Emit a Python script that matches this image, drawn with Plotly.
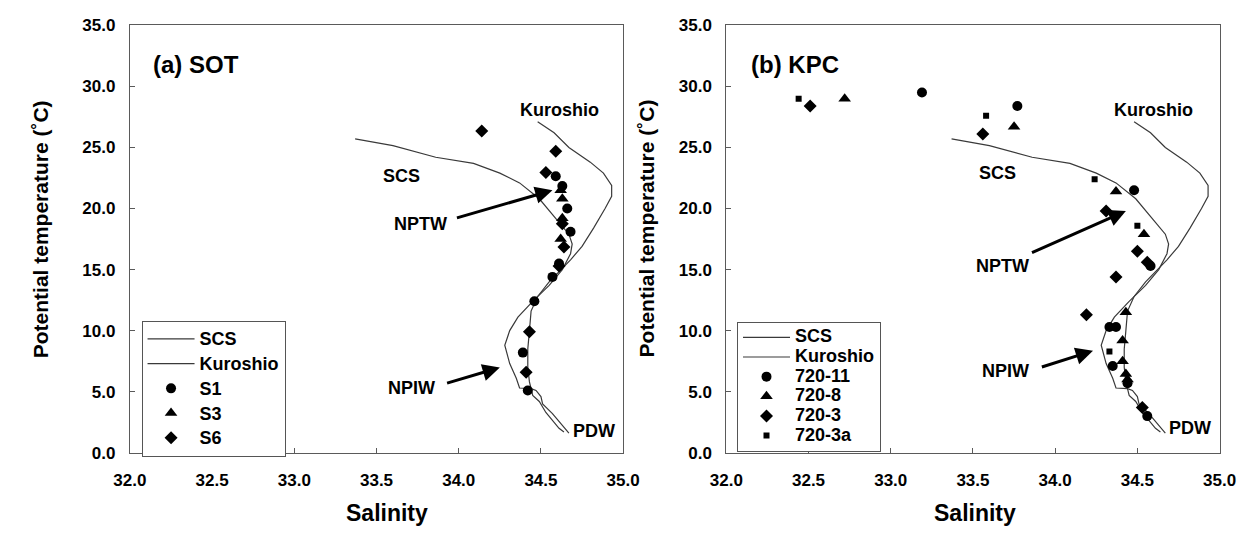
import plotly.graph_objects as go

# ---------------- data ----------------
# Reference T-S curves (same in both panels)
SCS_SAL = [33.37, 33.60, 33.86, 34.09, 34.25, 34.37, 34.49, 34.59, 34.67, 34.69, 34.68, 34.63,
           34.55, 34.45, 34.36, 34.31, 34.28, 34.31, 34.35, 34.37, 34.44, 34.47, 34.50, 34.51,
           34.57, 34.62, 34.67]
SCS_TEMP = [25.7, 25.15, 24.2, 23.7, 22.9, 22.1, 20.8, 19.2, 17.9, 17.1, 16.3, 15.0,
            13.7, 12.4, 11.1, 10.0, 8.8, 7.3, 6.1, 5.3, 5.25, 5.1, 4.6, 4.0,
            3.2, 2.4, 1.6]
KUR_SAL = [34.48, 34.58, 34.67, 34.80, 34.88, 34.93, 34.93, 34.89, 34.82, 34.75, 34.68, 34.61,
           34.55, 34.48, 34.44, 34.43, 34.42, 34.42, 34.43, 34.45, 34.49, 34.53, 34.57, 34.61, 34.64]
KUR_TEMP = [27.1, 26.2, 25.0, 23.8, 22.9, 21.9, 21.0, 20.0, 18.4, 16.9, 15.8, 14.8,
            14.0, 12.8, 11.6, 10.0, 8.5, 7.0, 5.8, 4.7, 4.2, 3.3, 2.6, 2.0, 1.7]

# (a) SOT stations
S1_SAL = [34.59, 34.63, 34.66, 34.68, 34.61, 34.57, 34.46, 34.39, 34.42]
S1_TEMP = [22.65, 21.85, 20.0, 18.1, 15.5, 14.4, 12.4, 8.2, 5.1]
S3_SAL = [34.62, 34.63, 34.63, 34.62]
S3_TEMP = [21.5, 20.8, 19.2, 17.5]
S6_SAL = [34.14, 34.59, 34.53, 34.63, 34.64, 34.61, 34.43, 34.41]
S6_TEMP = [26.35, 24.7, 22.95, 18.75, 16.85, 15.3, 9.9, 6.6]

# (b) KPC stations
K11_SAL = [33.19, 33.77, 34.48, 34.58, 34.33, 34.37, 34.35, 34.44, 34.56]
K11_TEMP = [29.5, 28.4, 21.5, 15.3, 10.3, 10.3, 7.1, 5.7, 3.0]
K8_SAL = [32.72, 33.75, 34.37, 34.54, 34.43, 34.41, 34.41, 34.43, 34.44]
K8_TEMP = [29.0, 26.7, 21.4, 17.9, 11.5, 9.2, 7.5, 6.45, 6.0]
K3_SAL = [32.51, 33.56, 34.31, 34.50, 34.56, 34.37, 34.19, 34.53]
K3_TEMP = [28.4, 26.1, 19.8, 16.5, 15.6, 14.4, 11.3, 3.7]
K3A_SAL = [32.44, 33.58, 34.24, 34.50, 34.33]
K3A_TEMP = [29.0, 27.6, 22.4, 18.6, 8.3]

X_TICKS = [32.0, 32.5, 33.0, 33.5, 34.0, 34.5, 35.0]
Y_TICKS = [0, 5, 10, 15, 20, 25, 30, 35]

# ---------------- figure ----------------
W, H = 1258, 537
FONT = "Arial, Liberation Sans, sans-serif"
LINE_COLOR = "#3a3a3a"
FRAME = "#5a5a5a"

fig = go.Figure()


def leg_name(t):
    return "<span style='font-size:18px'>" + t + "</span>"


def add_panel(xa, ya, leg, stations):
    fig.add_trace(go.Scatter(x=SCS_SAL, y=SCS_TEMP, mode="lines", name=leg_name("SCS"),
                             line=dict(color=LINE_COLOR, width=1.2),
                             xaxis=xa, yaxis=ya, legend=leg))
    fig.add_trace(go.Scatter(x=KUR_SAL, y=KUR_TEMP, mode="lines", name=leg_name("Kuroshio"),
                             line=dict(color=LINE_COLOR, width=1.2),
                             xaxis=xa, yaxis=ya, legend=leg))
    for name, sx, sy, sym, size in stations:
        fig.add_trace(go.Scatter(x=sx, y=sy, mode="markers", name=leg_name(name),
                                 marker=dict(symbol=sym, size=size, color="black"),
                                 xaxis=xa, yaxis=ya, legend=leg))


add_panel("x", "y", "legend", [
    ("S1", S1_SAL, S1_TEMP, "circle", 10),
    ("S3", S3_SAL, S3_TEMP, "triangle-up", 11),
    ("S6", S6_SAL, S6_TEMP, "diamond", 10),
])
add_panel("x2", "y2", "legend2", [
    ("720-11", K11_SAL, K11_TEMP, "circle", 10),
    ("720-8", K8_SAL, K8_TEMP, "triangle-up", 11),
    ("720-3", K3_SAL, K3_TEMP, "diamond", 10),
    ("720-3a", K3A_SAL, K3A_TEMP, "square", 6),
])

ydom = [1 - 460 / H, 1 - 17 / H]
xdom1 = [116 / W, 623 / W]
xdom2 = [729 / W, 1236 / W]

axis_common = dict(showline=True, mirror=True, linecolor=FRAME, linewidth=1,
                   ticks="inside", ticklen=5, tickcolor=FRAME, showgrid=False,
                   zeroline=False, tickformat=".1f",
                   tickfont=dict(family=FONT, size=17, color="black", weight="bold"))

fig.update_layout(
    width=W, height=H, margin=dict(l=0, r=0, t=0, b=0),
    paper_bgcolor="white", plot_bgcolor="white",
    xaxis=dict(domain=xdom1, range=[32, 35], tickvals=X_TICKS, anchor="y",
               ticklabelstandoff=12, **axis_common),
    yaxis=dict(domain=ydom, range=[0, 35], tickvals=Y_TICKS, anchor="x",
               ticklabelstandoff=10, **axis_common),
    xaxis2=dict(domain=xdom2, range=[32, 35], tickvals=X_TICKS, anchor="y2",
                ticklabelstandoff=12, **axis_common),
    yaxis2=dict(domain=ydom, range=[0, 35], tickvals=Y_TICKS, anchor="x2",
                ticklabelstandoff=10, **axis_common),
    legend=dict(x=128 / W, y=1 - 323 / H, xanchor="left", yanchor="top",
                bordercolor="#555555", borderwidth=1, bgcolor="white",
                itemwidth=47, tracegroupgap=0,
                font=dict(family=FONT, size=16.7, color="black", weight="bold")),
    legend2=dict(x=740 / W, y=1 - 324 / H, xanchor="left", yanchor="top",
                 bordercolor="#555555", borderwidth=1, bgcolor="white",
                 itemwidth=47, tracegroupgap=0,
                 font=dict(family=FONT, size=12.8, color="black", weight="bold")),
)

ann = []
lab_font = dict(family=FONT, size=18, color="black", weight="bold")


def label(text, x, y, xr, yr):
    ann.append(dict(text=text, x=x, y=y, xref=xr, yref=yr, showarrow=False,
                    font=lab_font, xanchor="center", yanchor="middle"))


def arrow(x0, y0, x1, y1, xr, yr):
    ann.append(dict(text="", x=x1, y=y1, ax=x0, ay=y0, xref=xr, yref=yr,
                    axref=xr, ayref=yr, showarrow=True, arrowhead=2,
                    arrowsize=1.15, arrowwidth=3, arrowcolor="black", standoff=0))


# panel (a)
label("Kuroshio", 34.61, 28.1, "x", "y")
label("SCS", 33.65, 22.7, "x", "y")
label("NPTW", 33.77, 18.7, "x", "y")
label("NPIW", 33.71, 5.3, "x", "y")
label("PDW", 34.82, 1.75, "x", "y")
arrow(33.98, 19.2, 34.57, 21.5, "x", "y")
arrow(33.92, 5.66, 34.25, 6.98, "x", "y")
# panel (b)
label("Kuroshio", 34.60, 28.1, "x2", "y2")
label("SCS", 33.65, 22.9, "x2", "y2")
label("NPTW", 33.68, 15.3, "x2", "y2")
label("NPIW", 33.70, 6.7, "x2", "y2")
label("PDW", 34.82, 2.0, "x2", "y2")
arrow(33.85, 16.33, 34.43, 19.8, "x2", "y2")
arrow(33.91, 6.98, 34.23, 8.35, "x2", "y2")

# panel titles
for txt, px in [("(a) SOT", 138), ("(b) KPC", 752)]:
    ann.append(dict(text=txt, x=px / W, y=1 - 58 / H, xref="paper", yref="paper",
                    showarrow=False, xanchor="left", yanchor="middle",
                    font=dict(family=FONT, size=24, color="black", weight="bold")))

# axis titles
title_font = dict(family=FONT, size=23, color="black", weight="bold")
for cx in [380, 985]:
    ann.append(dict(text="Salinity", x=cx / W, y=1 - 523 / H, xref="paper", yref="paper",
                    showarrow=False, xanchor="center", yanchor="middle", font=title_font))
for cx in [25, 647]:
    ann.append(dict(text="Potential temperature (˚C)", x=cx / W, y=1 - 228 / H,
                    xref="paper", yref="paper", showarrow=False, textangle=-90,
                    xanchor="center", yanchor="middle",
                    font=dict(family=FONT, size=21, color="black", weight="bold")))

fig.update_layout(annotations=ann)
fig.write_html("out.html")
